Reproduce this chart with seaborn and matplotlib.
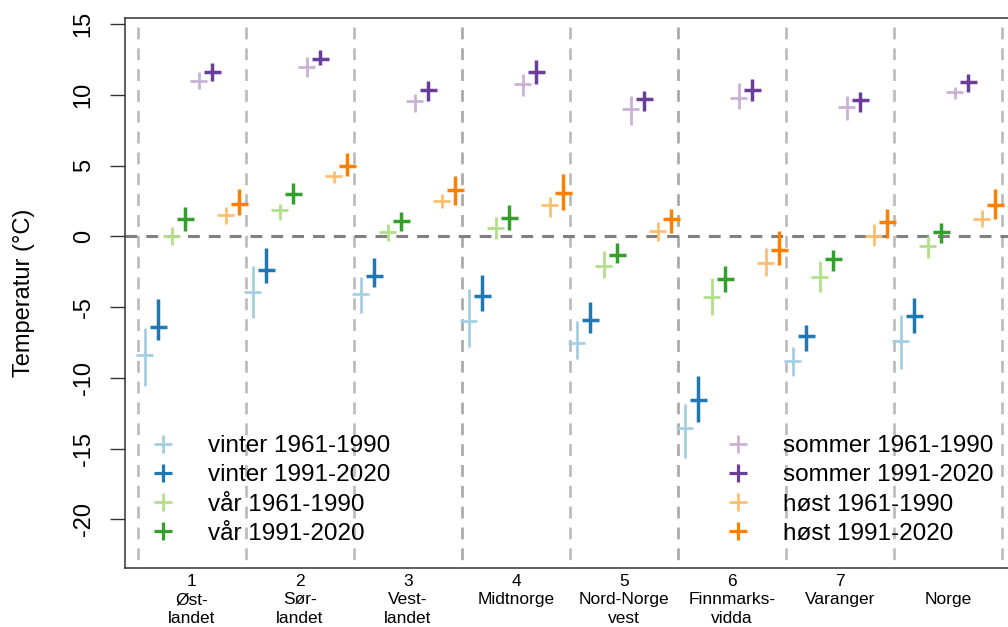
import matplotlib
matplotlib.use("Agg")
import matplotlib.pyplot as plt
from matplotlib.lines import Line2D
import seaborn as sns
import pandas as pd

# Regioner (x-aksen)
regions = ["1\nØst-\nlandet", "2\nSør-\nlandet", "3\nVest-\nlandet", "4\nMidtnorge",
           "5\nNord-Norge\nvest", "6\nFinnmarks-\nvidda", "7\nVaranger", "\nNorge"]

# Serier: midtverdi, nedre og øvre grense (°C), lest av figuren
vinter_6190 = [-8.4, -3.9, -4.1, -6.0, -7.5, -13.55, -8.8, -7.4]
vinter_6190_lo = [-10.6, -5.8, -5.4, -7.8, -8.7, -15.65, -9.85, -9.4]
vinter_6190_hi = [-6.5, -2.1, -2.9, -3.7, -6.0, -11.85, -7.85, -5.55]

vinter_9120 = [-6.4, -2.4, -2.8, -4.2, -5.9, -11.55, -7.05, -5.65]
vinter_9120_lo = [-7.35, -3.3, -3.55, -5.3, -6.85, -13.15, -8.1, -6.8]
vinter_9120_hi = [-4.45, -0.8, -1.5, -2.7, -4.65, -9.85, -6.25, -4.35]

vaar_6190 = [0.0, 1.9, 0.3, 0.6, -2.1, -4.3, -2.9, -0.7]
vaar_6190_lo = [-0.6, 1.15, -0.3, -0.2, -2.95, -5.55, -3.95, -1.5]
vaar_6190_hi = [0.65, 2.3, 0.9, 1.35, -1.0, -2.95, -1.75, 0.05]

vaar_9120 = [1.25, 3.0, 1.1, 1.3, -1.3, -3.0, -1.6, 0.3]
vaar_9120_lo = [0.35, 2.3, 0.4, 0.45, -1.9, -3.95, -2.45, -0.45]
vaar_9120_hi = [2.05, 3.8, 1.7, 2.2, -0.5, -2.1, -0.95, 0.95]

sommer_6190 = [11.0, 12.0, 9.55, 10.75, 9.0, 9.8, 9.15, 10.2]
sommer_6190_lo = [10.4, 11.3, 8.8, 9.95, 7.85, 9.0, 8.25, 9.7]
sommer_6190_hi = [11.65, 12.65, 10.1, 11.45, 9.95, 10.85, 9.95, 10.55]

sommer_9120 = [11.6, 12.55, 10.35, 11.6, 9.7, 10.35, 9.65, 10.9]
sommer_9120_lo = [11.0, 12.15, 9.6, 10.8, 8.9, 9.6, 8.8, 10.2]
sommer_9120_hi = [12.25, 13.15, 11.0, 12.5, 10.25, 11.15, 10.2, 11.5]

host_6190 = [1.5, 4.3, 2.5, 2.25, 0.4, -1.9, 0.0, 1.25]
host_6190_lo = [0.9, 3.8, 2.0, 1.4, -0.3, -2.8, -0.7, 0.7]
host_6190_hi = [2.1, 4.65, 3.0, 2.8, 1.05, -0.85, 0.85, 1.85]

host_9120 = [2.3, 5.0, 3.3, 3.1, 1.2, -0.95, 1.0, 2.25]
host_9120_lo = [1.5, 4.3, 2.2, 1.9, 0.25, -2.0, -0.1, 1.25]
host_9120_hi = [3.35, 5.9, 4.3, 4.4, 1.95, 0.35, 1.95, 3.35]

series_labels = ["vinter 1961-1990", "vinter 1991-2020", "vår 1961-1990", "vår 1991-2020",
                 "sommer 1961-1990", "sommer 1991-2020", "høst 1961-1990", "høst 1991-2020"]
series_mid = [vinter_6190, vinter_9120, vaar_6190, vaar_9120,
              sommer_6190, sommer_9120, host_6190, host_9120]
series_lo = [vinter_6190_lo, vinter_9120_lo, vaar_6190_lo, vaar_9120_lo,
             sommer_6190_lo, sommer_9120_lo, host_6190_lo, host_9120_lo]
series_hi = [vinter_6190_hi, vinter_9120_hi, vaar_6190_hi, vaar_9120_hi,
             sommer_6190_hi, sommer_9120_hi, host_6190_hi, host_9120_hi]

# Lang tabell
rows = []
for k, lab in enumerate(series_labels):
    for i in range(len(regions)):
        rows.append({"serie": lab, "k": k, "region": i, "mid": series_mid[k][i],
                     "lo": series_lo[k][i], "hi": series_hi[k][i]})
df = pd.DataFrame(rows)
df["x"] = df["region"] + (df["k"] + 0.5) / 8

sns.set_style("ticks")
plt.rcParams["font.family"] = ["Liberation Sans", "DejaVu Sans"]
plt.rcParams["lines.scale_dashes"] = False
for key in ["text.color", "axes.labelcolor", "xtick.labelcolor", "ytick.labelcolor"]:
    plt.rcParams[key] = "black"

paired = sns.color_palette("Paired")
colors = [paired[i] for i in [0, 1, 2, 3, 8, 9, 6, 7]]

fig = plt.figure(figsize=(10.08, 6.27), dpi=100)
ax = fig.add_axes([125 / 1008, 1 - 568 / 627, 890 / 1008, 550 / 627])

ymin, ymax = -23.44, 15.44

# Skillelinjer
for b in range(9):
    c = "#ababab" if b in (3, 5) else "#bdbdbd"
    ax.plot([b, b], [ymax, ymin], color=c, lw=2.0, ls=(8.5, (8.5, 6.5)), zorder=1)
ax.axhline(0, color="#808080", lw=2.2, dashes=(8.5, 6.5), zorder=1)

for k, lab in enumerate(series_labels):
    d = df[df["k"] == k]
    lw = 2.0 if k % 2 == 0 else 2.5
    ax.errorbar(d["x"], d["mid"], xerr=0.08,
                yerr=[d["mid"] - d["lo"], d["hi"] - d["mid"]],
                fmt="none", ecolor=colors[k], elinewidth=lw, capsize=0, zorder=3)

ax.set_xlim(-0.12, 8.12)
ax.set_ylim(ymin, ymax)
ax.set_yticks([-20, -15, -10, -5, 0, 5, 10, 15])
ax.set_yticklabels(["-20", "-15", "-10", "-5", "0", "5", "10", "15"],
                   rotation=90, va="center", fontsize=17)
ax.tick_params(axis="y", length=10.8, width=1.0, pad=11, color="#333333")
ax.set_xticks([i + 0.5 for i in range(len(regions))])
ax.set_xticklabels(regions, fontsize=12.5, linespacing=1.3)
ax.tick_params(axis="x", length=0, pad=4)
ax.set_ylabel("Temperatur (°C)", fontsize=17)
ax.yaxis.set_label_coords(-0.101, 0.5)

for s in ["left", "bottom", "top", "right"]:
    ax.spines[s].set_color("#333333")
    ax.spines[s].set_linewidth(1.1)

handles = [Line2D([], [], ls="none", marker="+", markersize=13,
                  markeredgewidth=2.0 if k % 2 == 0 else 2.3, color=colors[k])
           for k in range(8)]

leg_kw = dict(frameon=False, fontsize=17.5, handlelength=1.0, handletextpad=1.35,
              labelspacing=0.3, borderpad=0, borderaxespad=0, loc="upper left",
              bbox_transform=fig.transFigure)
leg1 = ax.legend(handles[:4], series_labels[:4], bbox_to_anchor=(151 / 1008, 1 - 435 / 627), **leg_kw)
ax.add_artist(leg1)
ax.legend(handles[4:], series_labels[4:], bbox_to_anchor=(726 / 1008, 1 - 435 / 627), **leg_kw)

fig.savefig("out.png", dpi=100)
